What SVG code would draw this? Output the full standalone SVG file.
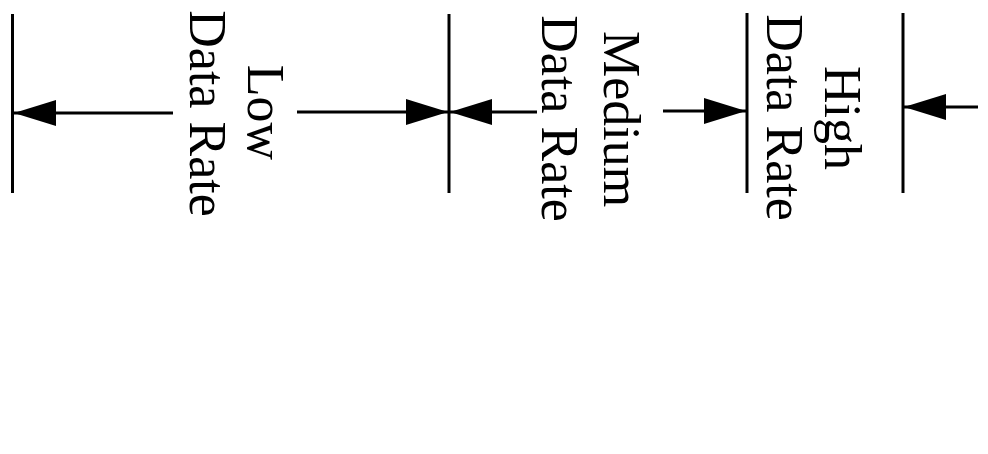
<svg xmlns="http://www.w3.org/2000/svg" width="988" height="454" viewBox="0 0 988 454">
  <style>
    .bar { stroke: #000; stroke-width: 3; fill: none; }
    .conn { stroke: #000; stroke-width: 3; fill: none; marker-end: url(#head); }
    .lbl { font-family: "Liberation Serif", "Times New Roman", serif; font-size: 52px; fill: #000; text-anchor: middle; }
  </style>
  <defs>
    <marker id="head" markerUnits="userSpaceOnUse" markerWidth="42" markerHeight="26" refX="42" refY="13" orient="auto">
      <path d="M0,0 L42,13 L0,26 z" fill="#000"/>
    </marker>
  </defs>
  <rect width="988" height="454" fill="#fff"/>

  <g id="boundary-1"><line class="bar" x1="12.5" y1="14" x2="12.5" y2="193"/></g>
  <g id="boundary-2"><line class="bar" x1="449" y1="14" x2="449" y2="193"/></g>
  <g id="boundary-3"><line class="bar" x1="747" y1="13" x2="747" y2="193"/></g>
  <g id="boundary-4"><line class="bar" x1="903" y1="13" x2="903" y2="193"/></g>

  <g id="label-low">
    <text class="lbl" transform="translate(248,112.5) rotate(90)">Low</text>
    <text class="lbl" transform="translate(190,113.5) rotate(90)">Data Rate</text>
  </g>
  <g id="label-medium">
    <text class="lbl" transform="translate(604,119) rotate(90)">Medium</text>
    <text class="lbl" transform="translate(542,118.5) rotate(90)">Data Rate</text>
  </g>
  <g id="label-high">
    <text class="lbl" transform="translate(825,118) rotate(90)">High</text>
    <text class="lbl" transform="translate(767,117.5) rotate(90)">Data Rate</text>
  </g>

  <g id="connectors">
    <line class="conn" x1="173" y1="113" x2="14" y2="113"/>
    <line class="conn" x1="297" y1="112" x2="448" y2="112"/>
    <line class="conn" x1="537" y1="112" x2="450" y2="112"/>
    <line class="conn" x1="663" y1="111" x2="746" y2="111"/>
    <line class="conn" x1="978" y1="107" x2="904" y2="107"/>
  </g>
</svg>
